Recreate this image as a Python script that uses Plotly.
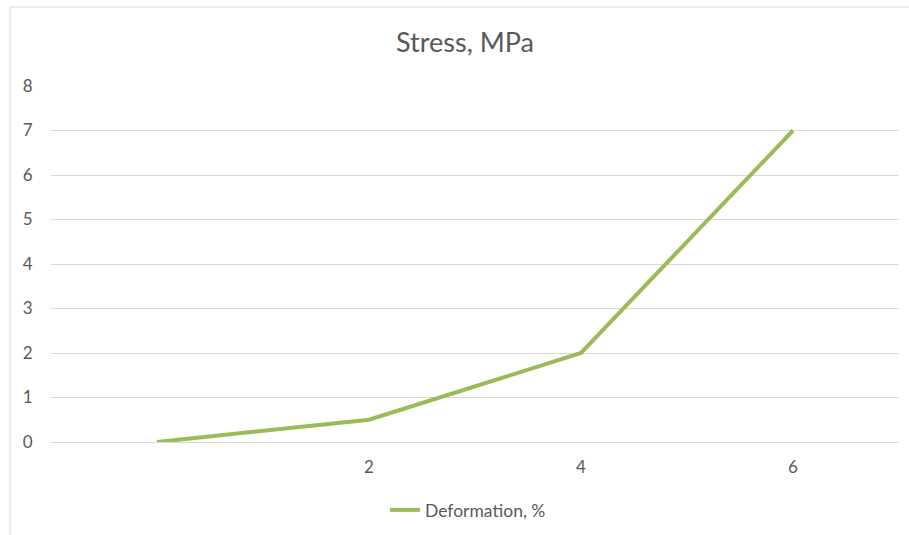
import plotly.graph_objects as go

categories = ["", "2", "4", "6"]
stress = [0, 0.5, 2, 7]
series_name = "Deformation, %"
title_text = "Stress, MPa"

x_idx = list(range(len(categories)))

L, R, T, B = 51, 10, 86, 93
W, H = 909, 535
pw, ph = W - L - R, H - T - B

def px(xp):
    return (xp - L) / pw

def py(yp):
    return (H - B - yp) / ph

fig = go.Figure()
fig.add_trace(go.Scatter(
    x=x_idx, y=stress, mode="lines", name=series_name,
    line=dict(color="#9BBB59", width=4),
))

fig.update_layout(
    width=W, height=H,
    margin=dict(l=L, r=R, t=T, b=B, autoexpand=False),
    paper_bgcolor="white", plot_bgcolor="white",
    font=dict(family="Lato, Open Sans, sans-serif", color="#595959", size=17),
    title=dict(text=title_text, x=(465) / W, xanchor="center", y=1 - 43 / H, yanchor="middle",
               font=dict(size=27, color="#595959")),
    showlegend=True,
    legend=dict(orientation="h", xref="container", x=468 / W, xanchor="center",
                yref="container", y=1 - 510 / H, yanchor="middle",
                font=dict(size=17.5, color="#595959"), bgcolor="rgba(0,0,0,0)"),
    xaxis=dict(range=[-0.5, len(categories) - 0.5], tickvals=x_idx, ticktext=categories,
               showgrid=False, zeroline=False, showline=False,
               ticks="outside", ticklen=10, tickcolor="rgba(0,0,0,0)"),
    yaxis=dict(range=[0, 8], dtick=1, showgrid=True, gridcolor="#D9D9D9", gridwidth=1,
               zeroline=True, zerolinecolor="#D9D9D9", zerolinewidth=1, showline=False,
               ticks="outside", ticklen=14, tickcolor="rgba(0,0,0,0)"),
    shapes=[dict(type="rect", xref="paper", yref="paper",
                 x0=px(10), x1=px(920), y0=py(545), y1=py(7),
                 line=dict(color="#D9D9D9", width=1), fillcolor="rgba(0,0,0,0)", layer="below")],
)

fig.write_html("out.html", config={"displayModeBar": False},
               post_script="document.body.style.margin='0';")
